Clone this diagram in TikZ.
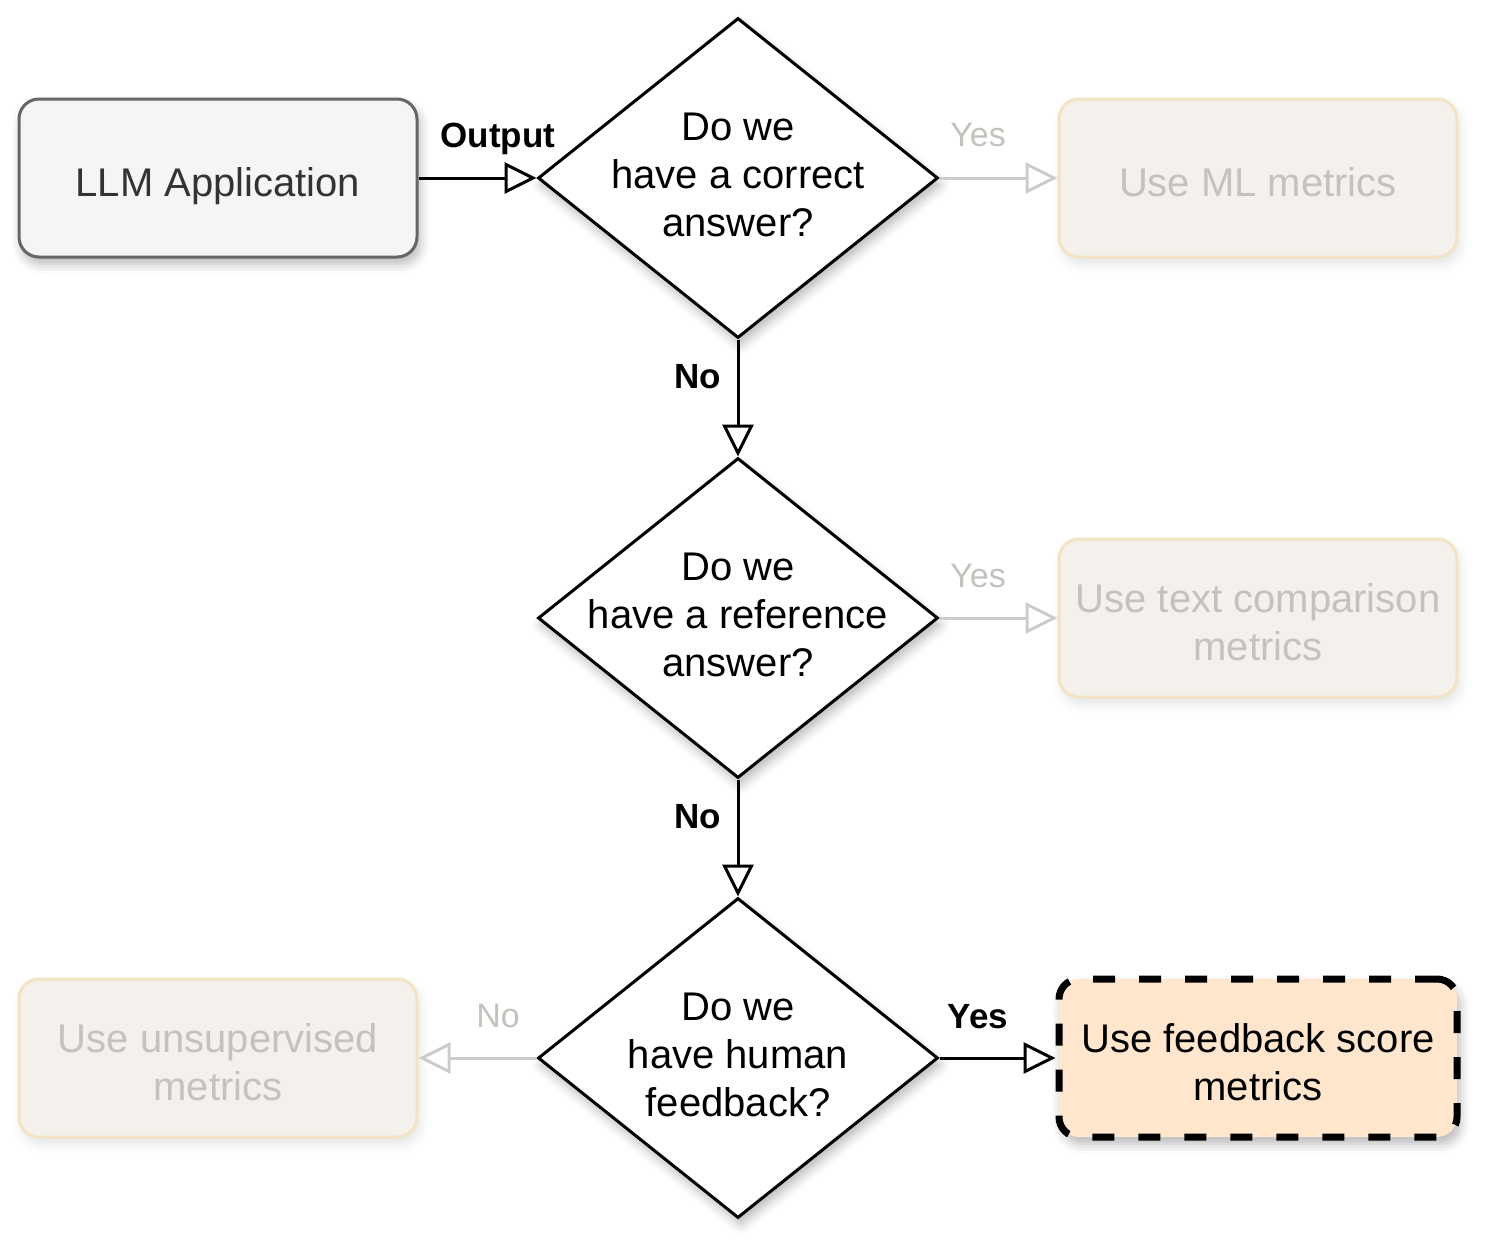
\documentclass[tikz,border=0pt]{standalone}
\usepackage{fontspec}
\setmainfont{Liberation Sans}
\usetikzlibrary{arrows.meta,shapes.geometric,shadows.blur}
\definecolor{fadefill}{HTML}{F4F0EC}
\definecolor{fadedraw}{HTML}{F2E3C4}
\definecolor{fadetext}{HTML}{C5C1BC}
\definecolor{fadeline}{HTML}{CCCCCC}
\definecolor{mainfill}{HTML}{F5F5F5}
\definecolor{maindraw}{HTML}{666666}
\definecolor{maintext}{HTML}{333333}
\definecolor{hifill}{HTML}{FFE6CC}
\begin{document}
\begin{tikzpicture}[x=1pt,y=-1pt,
  softshadow/.style={blur shadow={shadow xshift=3pt, shadow yshift=-7pt, shadow blur radius=10pt, shadow opacity=28}},
  boxbase/.style={rectangle, rounded corners=20pt, minimum width=398pt, minimum height=158pt,
    line width=3pt, inner sep=0pt},
  boxtext/.style={align=center, inner sep=0pt, text depth=0pt, font=\fontsize{40}{48}\selectfont},
  mainbox/.style={boxbase, fill=mainfill, draw=maindraw, softshadow},
  fadebox/.style={boxbase, fill=fadefill, draw=fadedraw,
    blur shadow={shadow xshift=3pt, shadow yshift=-7pt, shadow blur radius=10pt, shadow opacity=10}},
  hibox/.style={boxbase, fill=hifill, draw=black, line width=7pt, dash pattern=on 22pt off 24pt, softshadow},
  decision/.style={diamond, draw=black, fill=white, line width=3pt, minimum width=400pt, minimum height=320pt,
    inner sep=0pt, softshadow},
  qtext/.style={align=center, font=\fontsize{40}{48}\selectfont, text=black},
  arr/.style={line width=3pt, draw=black, -{Triangle[open,length=32pt,width=31pt]}},
  fadearr/.style={line width=3pt, draw=fadeline, -{Triangle[open,length=32pt,width=31pt]}},
  lbl/.style={font=\fontsize{35}{40}\selectfont\bfseries, text=black, text depth=0pt},
  fadelbl/.style={font=\fontsize{34}{40}\selectfont, text=fadetext, text depth=0pt}
]
\useasboundingbox (0,0) rectangle (1488,1248);

\node[mainbox] (llm) at (218,178) {};
\node[boxtext, text=maintext] (llmt) at (218,182) {LLM Application};

\node[decision] (d1) at (738,178) {};
\node[qtext] (d1t) at (738,175) {Do we\\have a correct\\answer?};
\node[decision] (d2) at (738,618) {};
\node[qtext] (d2t) at (738,615) {Do we\\have a reference\\answer?};
\node[decision] (d3) at (738,1058) {};
\node[qtext] (d3t) at (738,1055) {Do we\\have human\\feedback?};

\node[fadebox] (ml) at (1258,178) {};
\node[boxtext, text=fadetext] (mlt) at (1258,182) {Use ML metrics};
\node[fadebox] (tc) at (1258,618) {};
\node[boxtext, text=fadetext] (tct) at (1258,622) {Use text comparison\\metrics};
\node[fadebox] (un) at (218,1058) {};
\node[boxtext, text=fadetext] (unt) at (218,1062) {Use unsupervised\\metrics};
\node[hibox] (fb) at (1258,1058) {};
\node[boxtext, text=black] (fbt) at (1258,1062) {Use feedback score\\metrics};

\draw[arr] (llm.east) -- (d1.west);
\draw[arr] (d1.south) -- (d2.north);
\draw[arr] (d2.south) -- (d3.north);
\draw[arr] (d3.east) -- (fb.west);
\draw[fadearr] (d1.east) -- (ml.west);
\draw[fadearr] (d2.east) -- (tc.west);
\draw[fadearr] (d3.west) -- (un.east);

\node[lbl] (lout) at (498,135) {Output};
\node[lbl] (lno1) at (698,376) {No};
\node[lbl] (lno2) at (698,816) {No};
\node[lbl] (lyes3) at (978,1016) {Yes};
\node[fadelbl] (lyes1) at (978,135) {Yes};
\node[fadelbl] (lyes2) at (978,576) {Yes};
\node[fadelbl] (lno3) at (498,1016) {No};
\end{tikzpicture}
\end{document}
